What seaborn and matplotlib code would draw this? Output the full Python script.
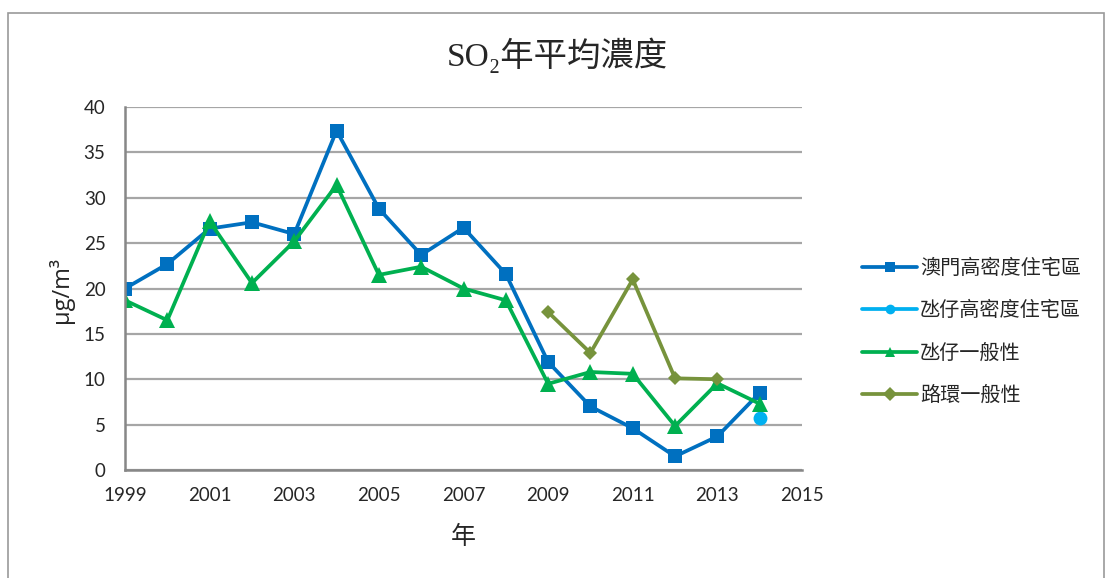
import pandas as pd
import seaborn as sns
import matplotlib.pyplot as plt
from matplotlib.patches import Rectangle

# data
years_macau = list(range(1999, 2015))
macau_high = [20.0, 22.7, 26.6, 27.3, 26.0, 37.4, 28.8, 23.7, 26.7, 21.6,
              11.9, 7.0, 4.6, 1.5, 3.7, 8.5]

years_taipa_high = [2014]
taipa_high = [5.7]

years_taipa_gen = list(range(1999, 2015))
taipa_general = [18.7, 16.5, 27.4, 20.6, 25.2, 31.4, 21.5, 22.4, 20.0, 18.7,
                 9.5, 10.8, 10.6, 4.85, 9.55, 7.3]

years_coloane = [2009, 2010, 2011, 2012, 2013]
coloane_general = [17.4, 12.9, 21.0, 10.1, 10.0]

series = [
    ("澳門高密度住宅區", years_macau, macau_high, "#0070C0", "s", 10.5),
    ("氹仔高密度住宅區", years_taipa_high, taipa_high, "#00B0F0", "o", 10),
    ("氹仔一般性", years_taipa_gen, taipa_general, "#00B050", "^", 11),
    ("路環一般性", years_coloane, coloane_general, "#77933C", "D", 7.5),
]

sns.set_style("white")
plt.rcParams['font.family'] = ['Noto Sans CJK TC', 'DejaVu Sans']

fig = plt.figure(figsize=(11.07, 5.78), dpi=100)
ax = fig.add_axes([125 / 1107, 1 - 470 / 578, (802 - 125) / 1107, (470 - 107) / 578])

for name, yrs, vals, color, marker, ms in series:
    df = pd.DataFrame({"year": yrs, "value": vals})
    sns.lineplot(data=df, x="year", y="value", ax=ax, color=color, marker=marker,
                 markersize=ms, markeredgewidth=0, linewidth=2.7, label=name)

ax.set_xlim(1999, 2015)
ax.set_ylim(0, 40)
ax.set_xticks(range(1999, 2016, 2))
ax.set_yticks(range(0, 41, 5))
ax.yaxis.grid(True, color="#A6A6A6", linewidth=1.6)
ax.xaxis.grid(False)
ax.set_axisbelow(True)
for side in ["top", "right"]:
    ax.spines[side].set_visible(False)
for side in ["left", "bottom"]:
    ax.spines[side].set_color("#878787")
    ax.spines[side].set_linewidth(1.8)
ax.tick_params(axis="both", length=0, labelsize=13.5)
ax.tick_params(axis="y", pad=14)
ax.tick_params(axis="x", pad=12)
for lab in ax.get_xticklabels() + ax.get_yticklabels():
    lab.set_family(["Lato", "DejaVu Sans"])

ax.set_xlabel("")
ax.set_ylabel("")
fig.text(61 / 1107, 1 - 290 / 578, "µg/m³", rotation=90, ha="center", va="center",
         fontsize=17, family=["Open Sans", "DejaVu Sans"])
fig.text(463 / 1107, 1 - 537 / 578, "年", ha="center", va="center", fontsize=18,
         family=["Noto Sans CJK TC", "DejaVu Sans"])
fig.text(557 / 1107, 1 - 55 / 578, "SO₂年平均濃度", ha="center", va="center",
         fontsize=24, family=["Liberation Serif", "Noto Sans CJK TC", "DejaVu Serif"])

leg = ax.legend(loc="center left", bbox_to_anchor=(862 / 1107, 1 - 332 / 578),
                bbox_transform=fig.transFigure, frameon=False, fontsize=14.5,
                handlelength=2.75, handletextpad=0.12, labelspacing=1.05,
                borderaxespad=0, borderpad=0)
for h in leg.legend_handles:
    h.set_markersize(7)

fig.patches.append(Rectangle((8 / 1107, -0.05), (1104 - 8) / 1107, 1.05 - 13 / 578,
                             transform=fig.transFigure, fill=False,
                             edgecolor="#9A9A9A", linewidth=1.2))

fig.savefig("out.png", dpi=100)
